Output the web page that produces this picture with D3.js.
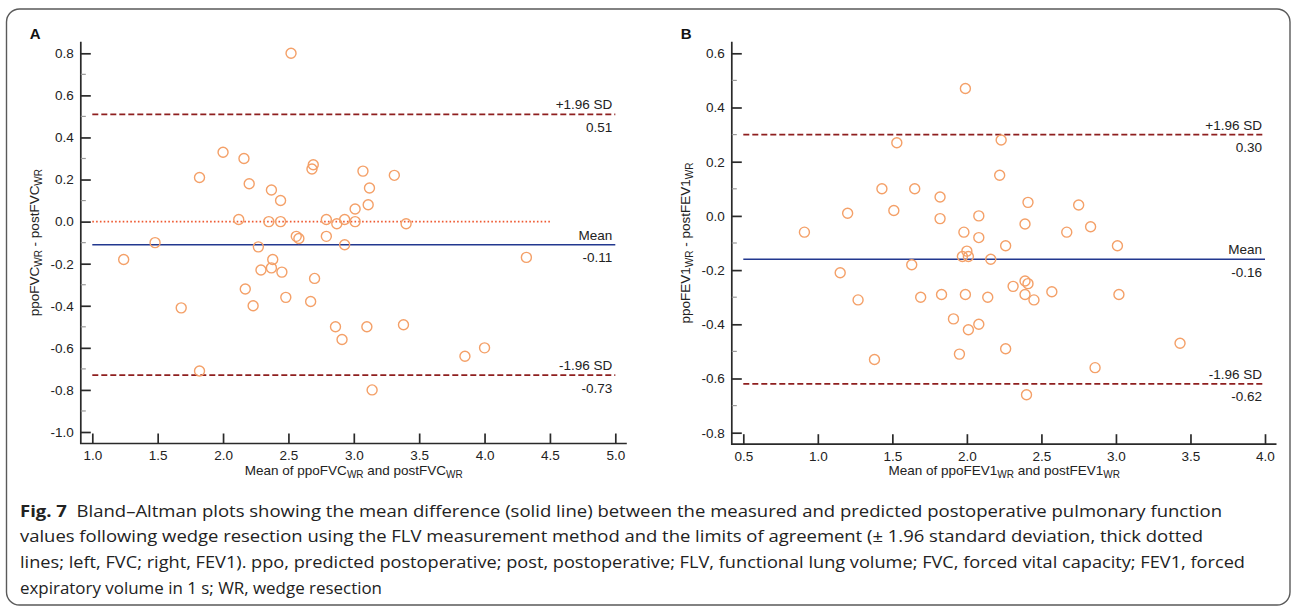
<!DOCTYPE html>
<html>
<head>
<meta charset="utf-8">
<script src="https://cdn.jsdelivr.net/npm/d3@7"></script>
<style>
  body { margin: 0; background: #fff; }
  svg { display: block; }
  .axis-text, .tick text { font-family: "Liberation Sans", Arial, sans-serif; font-size: 13.5px; fill: #222; white-space: pre; }
  .caption { font-family: "Open Sans", sans-serif; font-size: 16.3px; fill: #222; white-space: pre; }
</style>
</head>
<body>
<svg id="figure" width="1292" height="607"></svg>
<script>
// Panel A: FVC (mean of the two methods vs. their difference)
const fvcMean = [1.24, 1.48, 1.68, 1.82, 1.82, 2.00, 2.12, 2.16, 2.17, 2.20, 2.23, 2.27, 2.29, 2.35, 2.37, 2.37,
    2.38, 2.44, 2.44, 2.45, 2.48, 2.52, 2.56, 2.58, 2.67, 2.68, 2.69, 2.70, 2.79, 2.79, 2.86, 2.87,
    2.91, 2.93, 2.93, 3.01, 3.01, 3.07, 3.10, 3.11, 3.12, 3.14, 3.31, 3.38, 3.40, 3.85, 4.00, 4.32];
const fvcDiff = [-0.18, -0.10, -0.41, 0.21, -0.71, 0.33, 0.01, 0.30, -0.32, 0.18, -0.40, -0.12, -0.23, 0.00, 0.15, -0.22,
    -0.18, 0.10, 0.00, -0.24, -0.36, 0.80, -0.07, -0.08, -0.38, 0.25, 0.27, -0.27, 0.01, -0.07, -0.50, -0.01,
    -0.56, 0.01, -0.11, 0.06, 0.00, 0.24, -0.50, 0.08, 0.16, -0.80, 0.22, -0.49, -0.01, -0.64, -0.60, -0.17];
const fvcLimits = [0.51, -0.11, -0.73];
const fvcXTicks = [1.0, 1.5, 2.0, 2.5, 3.0, 3.5, 4.0, 4.5, 5.0];
const fvcYTicks = [-1.0, -0.8, -0.6, -0.4, -0.2, 0.0, 0.2, 0.4, 0.6, 0.8];
const fvcZeroLine = [1.0, 4.5];
const fvcYTitle = ['ppoFVC', 'WR', ' - postFVC', 'WR'];
const fvcXTitle = ['Mean of ppoFVC', 'WR', ' and postFVC', 'WR'];

// Panel B: FEV1
const fev1Mean = [0.91, 1.15, 1.20, 1.27, 1.38, 1.43, 1.51, 1.53, 1.63, 1.65, 1.69, 1.82, 1.82, 1.83, 1.91, 1.95,
    1.97, 1.98, 1.99, 1.99, 2.00, 2.01, 2.01, 2.08, 2.08, 2.08, 2.14, 2.16, 2.22, 2.23, 2.26, 2.26,
    2.31, 2.39, 2.39, 2.39, 2.40, 2.41, 2.41, 2.45, 2.57, 2.67, 2.75, 2.83, 2.86, 3.01, 3.02, 3.43];
const fev1Diff = [-0.06, -0.21, 0.01, -0.31, -0.53, 0.10, 0.02, 0.27, -0.18, 0.10, -0.30, 0.07, -0.01, -0.29, -0.38, -0.51,
    -0.15, -0.06, 0.47, -0.29, -0.13, -0.15, -0.42, 0.00, -0.08, -0.40, -0.30, -0.16, 0.15, 0.28, -0.11, -0.49,
    -0.26, -0.03, -0.24, -0.29, -0.66, 0.05, -0.25, -0.31, -0.28, -0.06, 0.04, -0.04, -0.56, -0.11, -0.29, -0.47];
const fev1Limits = [0.30, -0.16, -0.62];
const fev1XTicks = [0.5, 1.0, 1.5, 2.0, 2.5, 3.0, 3.5, 4.0];
const fev1YTicks = [-0.8, -0.6, -0.4, -0.2, 0.0, 0.2, 0.4, 0.6];
const fev1YTitle = ['ppoFEV1', 'WR', ' - postFEV1', 'WR'];
const fev1XTitle = ['Mean of ppoFEV1', 'WR', ' and postFEV1', 'WR'];

const limitNames = ['+1.96 SD', 'Mean', '-1.96 SD'];

const captionLines = [
    '  Bland\u2013Altman plots showing the mean difference (solid line) between the measured and predicted postoperative pulmonary function',
    'values following wedge resection using the FLV measurement method and the limits of agreement (\u00b1 1.96 standard deviation, thick dotted',
    'lines; left, FVC; right, FEV1). ppo, predicted postoperative; post, postoperative; FLV, functional lung volume; FVC, forced vital capacity; FEV1, forced',
    'expiratory volume in 1 s; WR, wedge resection'
];

class BlandAltmanPlot {

    constructor(_config, _data) {
        this.config = {
            svg: _config.svg,
            letter: _config.letter,
            xRange: _config.xRange,
            yRange: _config.yRange,
            xTicks: _config.xTicks,
            yTicks: _config.yTicks,
            limits: _config.limits,
            zeroLine: _config.zeroLine || null,
            xTitle: _config.xTitle,
            yTitle: _config.yTitle,
            overhang: 11.5
        };
        this.data = _data;
        this.initVis();
    }

    initVis() {
        let vis = this;
        const c = vis.config;

        vis.x = d3.scaleLinear()
            .domain(d3.extent(c.xTicks))
            .range(c.xRange);
        vis.y = d3.scaleLinear()
            .domain(d3.extent(c.yTicks))
            .range(c.yRange);

        // axes are drawn a little away from the data corner, like the original software does
        vis.axisX = c.xRange[0] - c.overhang;
        vis.axisY = c.yRange[0] + c.overhang;

        vis.g = c.svg.append('g');
        vis.renderVis();
    }

    renderVis() {
        let vis = this;
        const c = vis.config;

        // axis lines
        vis.g.append('path')
            .attr('d', `M${vis.axisX},${c.yRange[1] - c.overhang}V${vis.axisY}H${c.xRange[1] + c.overhang}`)
            .attr('fill', 'none')
            .attr('stroke', '#2a2a2a')
            .attr('stroke-width', 1.7);

        const yAxis = d3.axisLeft(vis.y)
            .tickValues(c.yTicks)
            .tickSize(-10)
            .tickPadding(7)
            .tickFormat(d => d.toFixed(1));
        const yg = vis.g.append('g')
            .attr('transform', `translate(${vis.axisX},0)`)
            .call(yAxis);
        yg.select('.domain').remove();
        yg.selectAll('.tick line').attr('stroke', '#2a2a2a').attr('stroke-width', 1.7);
        yg.attr('font-family', null).attr('font-size', null);

        // minor ticks between the labelled ones
        const minor = d3.pairs(c.yTicks).map(p => (p[0] + p[1]) / 2);
        vis.g.selectAll('.minor-tick')
            .data(minor)
            .join('line')
            .attr('class', 'minor-tick')
            .attr('x1', vis.axisX)
            .attr('x2', vis.axisX + 5)
            .attr('y1', d => vis.y(d))
            .attr('y2', d => vis.y(d))
            .attr('stroke', '#9a9a9a')
            .attr('stroke-width', 1.2);

        const xAxis = d3.axisBottom(vis.x)
            .tickValues(c.xTicks)
            .tickSize(-10)
            .tickPadding(7)
            .tickFormat(d => d.toFixed(1));
        const xg = vis.g.append('g')
            .attr('transform', `translate(0,${vis.axisY})`)
            .call(xAxis);
        xg.select('.domain').remove();
        xg.selectAll('.tick line').attr('stroke', '#2a2a2a').attr('stroke-width', 1.7);
        xg.attr('font-family', null).attr('font-size', null);

        // zero reference (dotted), only in panel A
        if (c.zeroLine) {
            vis.g.append('line')
                .attr('x1', vis.x(c.zeroLine[0]))
                .attr('x2', vis.x(c.zeroLine[1]))
                .attr('y1', vis.y(0))
                .attr('y2', vis.y(0))
                .attr('stroke', '#ee5a32')
                .attr('stroke-width', 1.7)
                .attr('stroke-dasharray', '1.6,2.2');
        }

        // limits of agreement and mean difference
        const styles = [
            {stroke: '#8e1f1f', width: 1.8, dash: '6,3'},
            {stroke: '#22388f', width: 1.5, dash: null},
            {stroke: '#8e1f1f', width: 1.8, dash: '6,3'}
        ];
        vis.g.selectAll('.limit-line')
            .data(c.limits)
            .join('line')
            .attr('class', 'limit-line')
            .attr('x1', c.xRange[0])
            .attr('x2', c.xRange[1])
            .attr('y1', d => vis.y(d))
            .attr('y2', d => vis.y(d))
            .attr('stroke', (d, i) => styles[i].stroke)
            .attr('stroke-width', (d, i) => styles[i].width)
            .attr('stroke-dasharray', (d, i) => styles[i].dash);

        vis.g.selectAll('.limit-name')
            .data(c.limits)
            .join('text')
            .attr('class', 'limit-name axis-text')
            .attr('x', c.xRange[1] - 3)
            .attr('y', d => vis.y(d) - 5)
            .attr('text-anchor', 'end')
            .text((d, i) => limitNames[i]);

        vis.g.selectAll('.limit-value')
            .data(c.limits)
            .join('text')
            .attr('class', 'limit-value axis-text')
            .attr('x', c.xRange[1] - 3)
            .attr('y', d => vis.y(d) + 17.5)
            .attr('text-anchor', 'end')
            .text(d => d.toFixed(2));

        // data points
        vis.g.selectAll('.point')
            .data(vis.data)
            .join('circle')
            .attr('class', 'point')
            .attr('cx', d => vis.x(d.mean))
            .attr('cy', d => vis.y(d.diff))
            .attr('r', 5)
            .attr('fill', 'none')
            .attr('stroke', '#f4a068')
            .attr('stroke-width', 1.4);

        // titles
        const yTitle = vis.g.append('text')
            .attr('class', 'axis-text')
            .attr('transform', `translate(${vis.axisX - 42},${(c.yRange[1] - c.overhang + vis.axisY) / 2}) rotate(-90)`)
            .attr('text-anchor', 'middle');
        this.addSubscripted(yTitle, c.yTitle);

        const xTitle = vis.g.append('text')
            .attr('class', 'axis-text')
            .attr('x', (vis.axisX + c.xRange[1] + c.overhang) / 2)
            .attr('y', 474.5)
            .attr('text-anchor', 'middle');
        this.addSubscripted(xTitle, c.xTitle);

        vis.g.append('text')
            .attr('x', vis.axisX - 51)
            .attr('y', 39)
            .attr('font-family', '"Liberation Sans", Arial, sans-serif')
            .attr('font-size', 15)
            .attr('font-weight', 'bold')
            .attr('fill', '#111')
            .text(c.letter);
    }

    /**
     * Alternating normal / subscript pieces of a title
     */
    addSubscripted(textSel, parts) {
        parts.forEach((p, i) => {
            const isSub = i % 2 === 1;
            textSel.append('tspan')
                .attr('font-size', isSub ? '10px' : null)
                .attr('dy', isSub ? 3.5 : (i > 0 ? -3.5 : 0))
                .text(p);
        });
    }
}

const svg = d3.select('#figure');

// frame around the figure
svg.append('rect')
    .attr('x', 6.5)
    .attr('y', 9)
    .attr('width', 1283.5)
    .attr('height', 596)
    .attr('rx', 13)
    .attr('fill', 'none')
    .attr('stroke', '#5a5a5a')
    .attr('stroke-width', 1.4);

new BlandAltmanPlot({
    svg: svg,
    letter: 'A',
    xRange: [92.3, 615.3],
    yRange: [432, 53.3],
    xTicks: fvcXTicks,
    yTicks: fvcYTicks,
    limits: fvcLimits,
    zeroLine: fvcZeroLine,
    xTitle: fvcXTitle,
    yTitle: fvcYTitle
}, fvcMean.map((m, i) => ({mean: m, diff: fvcDiff[i]})));

new BlandAltmanPlot({
    svg: svg,
    letter: 'B',
    xRange: [743.3, 1265],
    yRange: [432.7, 53.3],
    xTicks: fev1XTicks,
    yTicks: fev1YTicks,
    limits: fev1Limits,
    xTitle: fev1XTitle,
    yTitle: fev1YTitle
}, fev1Mean.map((m, i) => ({mean: m, diff: fev1Diff[i]})));

// caption
const lineWidths = [1202, 1183, 1225, 362];
captionLines.forEach((line, i) => {
    const t = svg.append('text')
        .attr('class', 'caption')
        .attr('x', 20)
        .attr('y', 516.5 + i * 25.8)
        .attr('textLength', lineWidths[i])
        .attr('lengthAdjust', 'spacingAndGlyphs');
    if (i === 0) {
        t.append('tspan').attr('font-weight', 'bold').text('Fig. 7');
    }
    t.append('tspan').text(line);
});
</script>
</body>
</html>
